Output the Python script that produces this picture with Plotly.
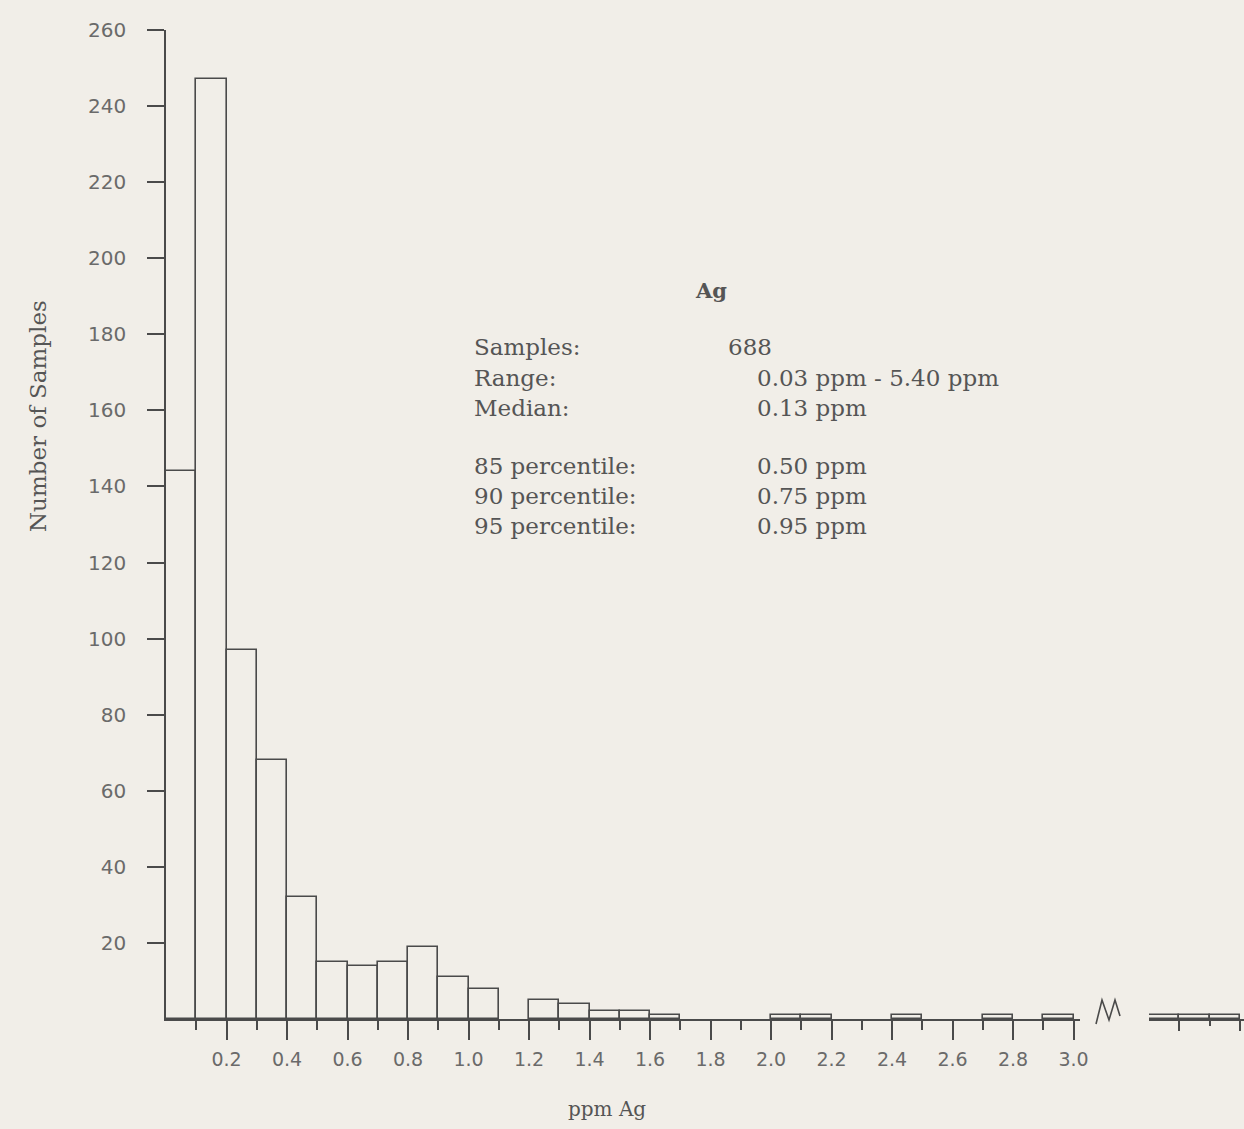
import plotly.graph_objects as go

# ---- data -------------------------------------------------------------
# Histogram of Ag concentrations, 0.1 ppm bins (left edge of each bin)
bin_start = [0.0, 0.1, 0.2, 0.3, 0.4, 0.5, 0.6, 0.7, 0.8, 0.9,
             1.0, 1.1, 1.2, 1.3, 1.4, 1.5, 1.6, 1.7, 1.8, 1.9,
             2.0, 2.1, 2.2, 2.3, 2.4, 2.5, 2.6, 2.7, 2.8, 2.9]
counts = [144, 247, 97, 68, 32, 15, 14, 15, 19, 11,
          8, 0, 5, 4, 2, 2, 1, 0, 0, 0,
          1, 1, 0, 0, 1, 0, 0, 1, 0, 1]

# High-value tail shown after the axis break
tail_start = [5.1, 5.2, 5.3]
tail_counts = [1, 1, 1]

x_tick_vals = [0.2, 0.4, 0.6, 0.8, 1.0, 1.2, 1.4, 1.6, 1.8, 2.0,
               2.2, 2.4, 2.6, 2.8, 3.0]
x_tick_text = ["0.2", "0.4", "0.6", "0.8", "1.0", "1.2", "1.4", "1.6", "1.8", "2.0",
               "2.2", "2.4", "2.6", "2.8", "3.0"]
x_minor_vals = [0.1, 0.3, 0.5, 0.7, 0.9, 1.1, 1.3, 1.5, 1.7, 1.9,
                2.1, 2.3, 2.5, 2.7, 2.9]
y_tick_vals = [20, 40, 60, 80, 100, 120, 140, 160, 180, 200, 220, 240, 260]

stat_labels = ["Samples:", "Range:", "Median:",
               "85 percentile:", "90 percentile:", "95 percentile:"]
stat_values = ["688", "0.03 ppm - 5.40 ppm", "0.13 ppm",
               "0.50 ppm", "0.75 ppm", "0.95 ppm"]

# ---- page geometry ----------------------------------------------------
W, H = 1244, 1129
BG = "#f1eee8"
INK = "#4a4a4a"
TEXT = "#555555"
TICK_TEXT = "#6a6a6a"
SERIF = "DejaVu Serif"
SANS = "DejaVu Sans"


def px(x):
    return x / W


def py(y):
    return 1 - y / H


# empty bins carry no outline of their own; the axis line is their base
nz = [(s, c) for s, c in zip(bin_start, counts) if c > 0]
main_x = [s for s, _ in nz]
main_y = [c for _, c in nz]

fig = go.Figure()

bar_style = dict(color="rgba(0,0,0,0)", line=dict(color=INK, width=1.6))

fig.add_trace(go.Bar(x=main_x, y=main_y, width=0.1, offset=0,
                     marker=bar_style, xaxis="x", yaxis="y",
                     hoverinfo="x+y"))
fig.add_trace(go.Bar(x=tail_start, y=tail_counts, width=0.1, offset=0,
                     marker=bar_style, xaxis="x2", yaxis="y",
                     hoverinfo="y"))

axis_common = dict(showgrid=False, zeroline=False, showline=True, automargin=False,
                   linecolor=INK, linewidth=1.6, tickcolor=INK, tickwidth=1.6)

x_left, x_right = 166, 1080
scale = 302.5  # pixels per ppm
fig.update_layout(
    width=W, height=H,
    margin=dict(l=0, r=0, t=0, b=0),
    paper_bgcolor=BG, plot_bgcolor=BG,
    showlegend=False,
    bargap=0,
    xaxis=dict(
        domain=[px(x_left), px(x_right)],
        range=[0, (x_right - x_left) / scale],
        anchor="y",
        tickmode="array", tickvals=x_tick_vals, ticktext=x_tick_text,
        ticks="outside", ticklen=19,
        ticklabelstandoff=3,
        tickfont=dict(family=SANS, size=19, color=TICK_TEXT),
        minor=dict(tickmode="array", tickvals=x_minor_vals, ticks="outside",
                   ticklen=9, tickcolor=INK, tickwidth=1.6),
        **axis_common,
    ),
    xaxis2=dict(
        domain=[px(1149), 1.0],
        range=[5.1, 5.1 + (W - 1149) / scale],
        anchor="y",
        tickmode="array", tickvals=[5.2, 5.4], showticklabels=False,
        ticks="outside", ticklen=10,
        minor=dict(tickmode="array", tickvals=[5.3], ticks="outside",
                   ticklen=5, tickcolor=INK, tickwidth=1.6),
        **axis_common,
    ),
    yaxis=dict(
        domain=[py(1019), py(30)],
        range=[0, 260],
        tickmode="array", tickvals=y_tick_vals,
        ticks="outside", ticklen=17,
        ticklabelstandoff=17,
        tickfont=dict(family=SANS, size=20, color=TICK_TEXT),
        **axis_common,
    ),
)

# axis break mark between the two x segments
zig = [(1096, 1024), (1102, 1000), (1109, 1020), (1115, 1000), (1120, 1016)]
path = "M " + " L ".join(f"{px(a):.5f},{py(b):.5f}" for a, b in zig)
fig.add_shape(type="path", path=path, xref="paper", yref="paper",
              line=dict(color=INK, width=1.6))

annotations = []

# axis titles
annotations.append(dict(text="Number of Samples", x=px(38), y=py(416),
                        xref="paper", yref="paper", textangle=-90,
                        showarrow=False, xanchor="center", yanchor="middle",
                        font=dict(family=SERIF, size=23, color=TEXT)))
annotations.append(dict(text="ppm Ag", x=px(607), y=py(1109),
                        xref="paper", yref="paper", showarrow=False,
                        xanchor="center", yanchor="middle",
                        font=dict(family=SERIF, size=20, color=TEXT)))

# summary statistics block
annotations.append(dict(text="<b>Ag</b>", x=px(711), y=py(290),
                        xref="paper", yref="paper", showarrow=False,
                        xanchor="center", yanchor="middle",
                        font=dict(family=SERIF, size=21, color=TEXT)))

line_y = [347, 378, 408, 466, 496, 526]
value_x = [726, 755, 755, 755, 755, 755]
for lab, val, yy, vx in zip(stat_labels, stat_values, line_y, value_x):
    annotations.append(dict(text=lab, x=px(472), y=py(yy), xref="paper", yref="paper",
                            showarrow=False, xanchor="left", yanchor="middle",
                            font=dict(family=SERIF, size=23, color=TEXT)))
    annotations.append(dict(text=val, x=px(vx), y=py(yy), xref="paper", yref="paper",
                            showarrow=False, xanchor="left", yanchor="middle",
                            font=dict(family=SERIF, size=23, color=TEXT)))

fig.update_layout(annotations=annotations)

fig.write_html("out.html", config={"displayModeBar": False})
